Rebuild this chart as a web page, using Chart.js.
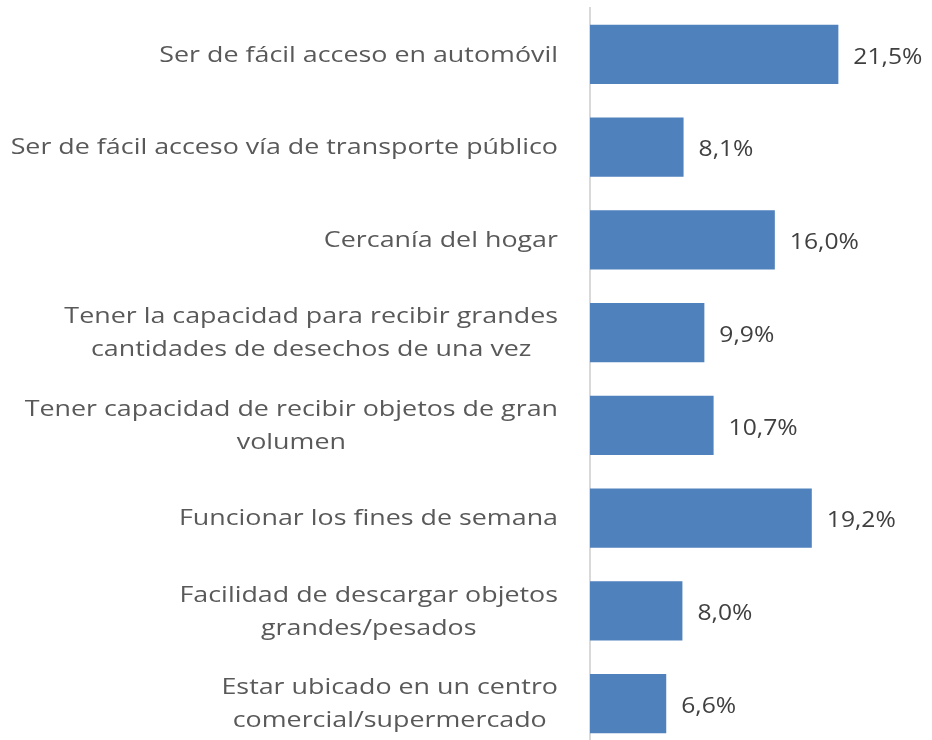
<!DOCTYPE html>
<html>
<head>
<meta charset="utf-8">
<script src="https://cdn.jsdelivr.net/npm/chart.js@4.4.1/dist/chart.umd.min.js"></script>
<style>
  html, body { margin: 0; padding: 0; background: #fff; overflow: hidden; }
  #wrap { width: 932px; height: 750px; position: relative; }
</style>
</head>
<body>
<div id="wrap"><canvas id="chart"></canvas></div>
<script>
// etiquetas de categoría (multilínea como en el original)
const categories = [
    ["Ser de fácil acceso en automóvil"],
    ["Ser de fácil acceso vía de transporte público"],
    ["Cercanía del hogar"],
    ["Tener la capacidad para recibir grandes", "cantidades de desechos de una vez"],
    ["Tener capacidad de recibir objetos de gran", "volumen"],
    ["Funcionar los fines de semana"],
    ["Facilidad de descargar objetos", "grandes/pesados"],
    ["Estar ubicado en un centro", "comercial/supermercado"],
];
const values = [21.5, 8.1, 16.0, 9.9, 10.7, 19.2, 8.0, 6.6];

const FONT = "'Open Sans', 'Noto Sans', sans-serif";

function fmtPct(v) {
    return v.toFixed(1).replace(".", ",") + "%";
}

// texto estirado en horizontal (el original está así)
function drawStretched(ctx, text, x, y, sx) {
    ctx.save();
    ctx.translate(x, y);
    ctx.scale(sx, 1);
    ctx.fillText(text, 0, 0);
    ctx.restore();
}

// etiquetas del eje Y: bloque alineado a la derecha, líneas centradas
const catLabels = {
    id: "catLabels",
    afterDraw(chart) {
        const { ctx } = chart;
        const y = chart.scales.y;
        const right = chart.chartArea.left - 32;
        const lineH = 33;
        const sx = 1.22;
        ctx.save();
        ctx.font = "22px " + FONT;
        ctx.fillStyle = "#595959";
        ctx.textAlign = "center";
        ctx.textBaseline = "middle";
        categories.forEach((lines, i) => {
            const cy = y.getPixelForTick(i);
            const w = Math.max(...lines.map((l) => ctx.measureText(l).width)) * sx;
            const cx = right - w / 2;
            const y0 = cy - ((lines.length - 1) * lineH) / 2;
            lines.forEach((l, j) => drawStretched(ctx, l, cx, y0 + j * lineH + 1, sx));
        });
        ctx.restore();
    },
};

// valores a la derecha de cada barra
const valueLabels = {
    id: "valueLabels",
    afterDatasetsDraw(chart) {
        const { ctx } = chart;
        const meta = chart.getDatasetMeta(0);
        ctx.save();
        ctx.font = "22px " + FONT;
        ctx.fillStyle = "#404040";
        ctx.textAlign = "left";
        ctx.textBaseline = "middle";
        meta.data.forEach((bar, i) => {
            drawStretched(ctx, fmtPct(values[i]), bar.x + 15, bar.y + 3, 1.12);
        });
        ctx.restore();
    },
};

new Chart(document.getElementById("chart").getContext("2d"), {
    type: "bar",
    data: {
        labels: categories.map((c) => c.join(" ")),
        datasets: [{
            data: values,
            backgroundColor: "#4f81bd",
            borderWidth: 0,
            barPercentage: 0.64,
            categoryPercentage: 1,
        }],
    },
    options: {
        indexAxis: "y",
        responsive: true,
        maintainAspectRatio: false,
        animation: false,
        layout: { padding: { top: 8, right: 7, left: 0, bottom: 0 } },
        plugins: {
            legend: { display: false },
            tooltip: { enabled: false },
        },
        scales: {
            x: { display: false, min: 0, max: 29 },
            y: {
                ticks: { display: false },
                grid: { display: false },
                border: { display: true, color: "#d9d9d9", width: 2 },
                afterFit(scale) { scale.width = 590; },
            },
        },
    },
    plugins: [catLabels, valueLabels],
});
</script>
</body>
</html>
